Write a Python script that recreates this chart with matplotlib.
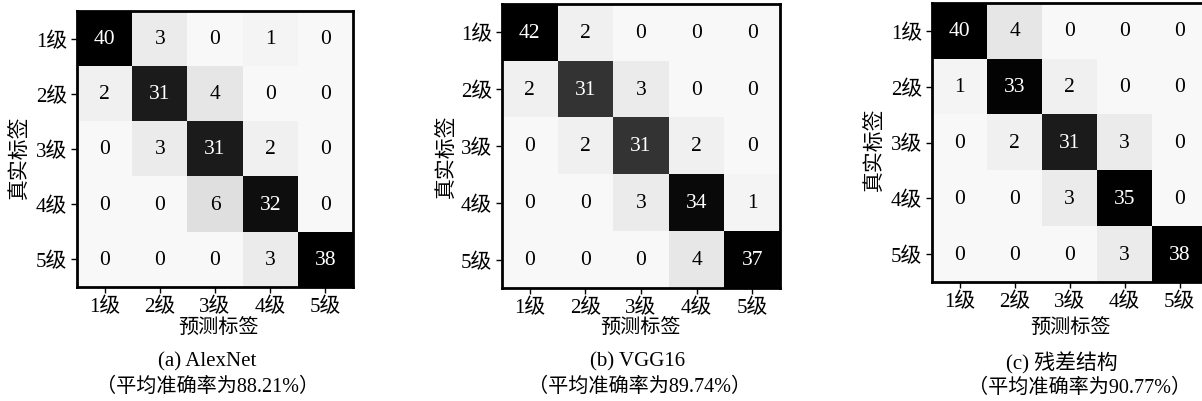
import matplotlib
matplotlib.use("Agg")
import matplotlib.pyplot as plt
import numpy as np
from matplotlib.colors import LinearSegmentedColormap

plt.rcParams['font.family'] = ['Liberation Serif', 'Noto Sans CJK SC']

classes = ["1级", "2级", "3级", "4级", "5级"]

alexnet = [[40, 3, 0, 1, 0],
           [2, 31, 4, 0, 0],
           [0, 3, 31, 2, 0],
           [0, 0, 6, 32, 0],
           [0, 0, 0, 3, 38]]

vgg16 = [[42, 2, 0, 0, 0],
         [2, 31, 3, 0, 0],
         [0, 2, 31, 2, 0],
         [0, 0, 3, 34, 1],
         [0, 0, 0, 4, 37]]

residual = [[40, 4, 0, 0, 0],
            [1, 33, 2, 0, 0],
            [0, 2, 31, 3, 0],
            [0, 0, 3, 35, 0],
            [0, 0, 0, 3, 38]]

titles = ["(a) AlexNet", "(b) VGG16", "(c) 残差结构"]
accuracy = ["88.21", "89.74", "90.77"]

# grey ramp that saturates to black well before the maximum count
_stops = [(0.0, 248), (0.05, 240), (0.10, 230), (0.15, 223),
          (0.74, 51), (0.775, 28), (0.80, 14), (0.83, 2), (1.0, 0)]
cmap = LinearSegmentedColormap.from_list(
    "cm_grey", [(p, (g / 255, g / 255, g / 255)) for p, g in _stops])

W, H = 1202, 402
fig = plt.figure(figsize=(W / 100, H / 100), dpi=100)

# axes boxes in pixels: left, top, right, bottom
boxes = [(77, 12, 353, 288), (502, 5, 780, 289), (932, 4, 1207, 283)]
ylabel_pos = [(20, 157), (447, 156), (875, 149)]
xlabel_pos = [(218, 328), (640, 328), (1070, 328)]
cap1 = [(207, 362), (638, 362), (1062, 363)]
cap2 = [(208, 387), (640, 387), (1080, 388)]

for k, (mat, box) in enumerate(zip([alexnet, vgg16, residual], boxes)):
    m = np.array(mat)
    l, t, r, b = box
    ax = fig.add_axes([l / W, 1 - b / H, (r - l) / W, (b - t) / H])
    ax.imshow(m, cmap=cmap, vmin=0, vmax=m.max(), aspect='auto',
              interpolation='nearest')
    for i in range(m.shape[0]):
        for j in range(m.shape[1]):
            v = m[i, j]
            frac = v / m.max()
            ax.text(j, i, str(v), ha='center', va='center', fontsize=15.5,
                    color='white' if frac > 0.5 else 'black',
                    family='Liberation Serif')
    ax.set_xticks(range(len(classes)))
    ax.set_yticks(range(len(classes)))
    ax.set_xticklabels(classes, fontsize=15)
    ax.set_yticklabels(classes, fontsize=15)
    ax.tick_params(length=4, width=1, direction='out', pad=3)
    for s in ax.spines.values():
        s.set_linewidth(2.0)
        s.set_color('black')
    # axis titles and captions
    fig.text(ylabel_pos[k][0] / W, 1 - ylabel_pos[k][1] / H, "真实标签",
             rotation=90, ha='center', va='center', fontsize=15)
    fig.text(xlabel_pos[k][0] / W, 1 - xlabel_pos[k][1] / H, "预测标签",
             ha='center', va='center', fontsize=14.5)
    fig.text(cap1[k][0] / W, 1 - cap1[k][1] / H, titles[k],
             ha='center', va='center', fontsize=15)
    fig.text(cap2[k][0] / W, 1 - cap2[k][1] / H,
             "（平均准确率为" + accuracy[k] + "%）",
             ha='center', va='center', fontsize=14.5)

fig.savefig("out.png", dpi=100)
